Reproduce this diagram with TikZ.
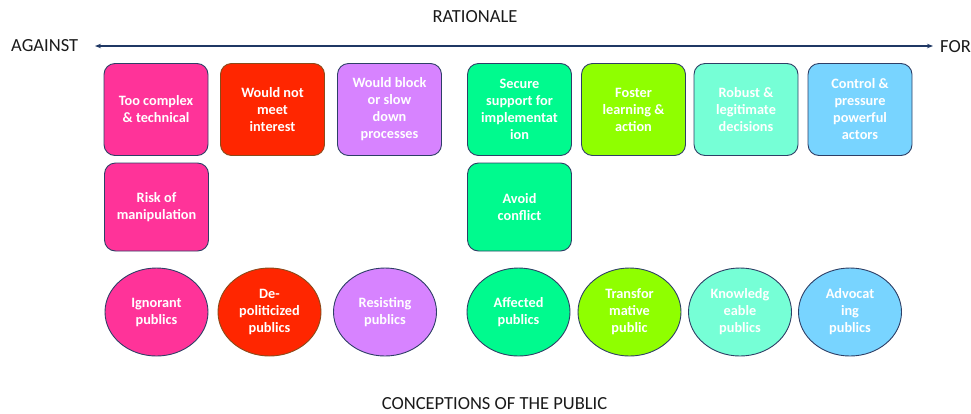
\documentclass[tikz,border=0pt]{standalone}
\usepackage{fontspec}
\setmainfont{Carlito}
\usetikzlibrary{shapes.geometric,arrows.meta}
\definecolor{navy}{HTML}{1F3864}
\definecolor{edgeblue}{HTML}{2E3F66}
\definecolor{edgebrown}{HTML}{8A4A1A}
\definecolor{hotpink}{HTML}{FF3399}
\definecolor{scarlet}{HTML}{FF2600}
\definecolor{lilac}{HTML}{D783FF}
\definecolor{spring}{HTML}{00FA8E}
\definecolor{lime}{HTML}{8FFF00}
\definecolor{aqua}{HTML}{76FFD6}
\definecolor{sky}{HTML}{78D4FF}
\definecolor{labelgrey}{HTML}{1A1A1A}
\tikzset{
  axislabel/.style={font=\fontsize{18.5}{22}\selectfont, text=labelgrey, inner sep=0pt},
  axisline/.style={draw=navy, line width=1.5pt, {Stealth[length=6pt,width=4.5pt]}-{Stealth[length=6pt,width=4.5pt]}},
  reason/.style={rounded corners=11pt, draw=edgeblue, line width=0.9pt,
    minimum width=104pt, minimum height=92pt, inner sep=0pt, align=center,
    text=white, font=\fontsize{14.3}{17}\selectfont\bfseries},
  reasonlow/.style={reason, minimum height=88pt},
  public/.style={ellipse, draw=edgeblue, line width=0.9pt,
    minimum width=103pt, minimum height=88pt, inner sep=0pt, align=center,
    text=white, font=\fontsize{14.3}{17}\selectfont\bfseries}
}
\begin{document}
\begin{tikzpicture}[x=1pt,y=-1pt]
\useasboundingbox (0,0) rectangle (971,413);

% axis
\node[axislabel] (rationale) at (475,17) {RATIONALE};
\node[axislabel, anchor=west] (against) at (11,46) {AGAINST};
\node[axislabel, anchor=west] (for) at (940,47) {FOR};
\coordinate (axisL) at (95,46);
\coordinate (axisR) at (933,46);
\draw[axisline] (axisL) -- (axisR);

% rationales, first row
\node[reason, fill=hotpink] (complex) at (156,109.5) {Too complex\\\& technical};
\node[reason, fill=scarlet, draw=edgebrown] (interest) at (272.5,109.5) {Would not\\meet\\interest};
\node[reason, fill=lilac] (block) at (389.5,109.5) {Would block\\or slow\\down\\processes};
\node[reason, fill=spring] (secure) at (519.5,109.5) {Secure\\support for\\implementat\\ion};
\node[reason, fill=lime] (foster) at (633.5,109.5) {Foster\\learning \&\\action};
\node[reason, fill=aqua] (robust) at (746,109.5) {Robust \&\\legitimate\\decisions};
\node[reason, fill=sky] (control) at (860,109.5) {Control \&\\pressure\\powerful\\actors};

% rationales, second row
\node[reasonlow, fill=hotpink] (manip) at (156.5,207) {Risk of\\manipulation};
\node[reasonlow, fill=spring] (avoid) at (519.5,207) {Avoid\\conflict};

% conceptions of the public
\node[public, fill=hotpink] (ignorant) at (156.5,312) {Ignorant\\publics};
\node[public, fill=scarlet, draw=edgebrown] (depol) at (269.5,312) {De-\\politicized\\publics};
\node[public, fill=lilac] (resist) at (385,312) {Resisting\\publics};
\node[public, fill=spring] (affected) at (518.5,312) {Affected\\publics};
\node[public, fill=lime] (transf) at (629.5,312) {Transfor\\mative\\public};
\node[public, fill=aqua] (knowl) at (740,312) {Knowledg\\eable\\publics};
\node[public, fill=sky] (advoc) at (850,312) {Advocat\\ing\\publics};

\node[axislabel] (conceptions) at (494.5,403.5) {CONCEPTIONS OF THE PUBLIC};
\end{tikzpicture}
\end{document}
